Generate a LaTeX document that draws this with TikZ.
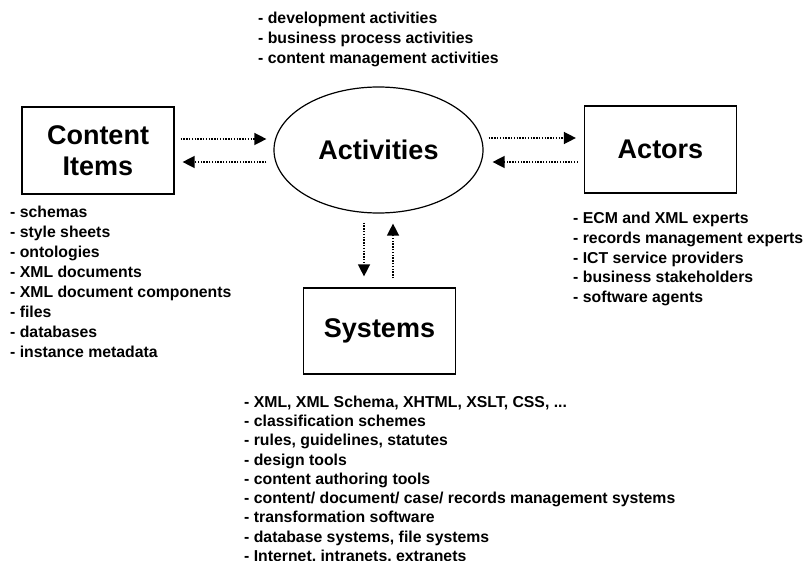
\documentclass[tikz,border=0pt]{standalone}
\usepackage{fontspec}
\setmainfont{Liberation Sans}
\usetikzlibrary{arrows.meta,shapes.geometric}
\begin{document}
\begin{tikzpicture}[x=1pt,y=-1pt,
  box/.style={draw,line width=1.2pt,minimum width=152pt,minimum height=87pt,inner sep=0pt,align=center,font=\fontsize{27}{31}\selectfont\bfseries},
  listtext/.style={anchor=north west,inner sep=0pt,align=left},
  lfont/.style={font=\fontsize{15.8}{#1}\selectfont\bfseries},
  flow/.style={line width=1.4pt,dash pattern=on 1.4pt off 1.4pt,-{Triangle[length=12pt,width=12pt]}}]
\useasboundingbox (0,0) rectangle (810,561);

\node[box] (ci) at (98,150.5) {Content\\Items};
\node[box] (ac) at (660.5,149.5) {Actors};
\node[box,minimum height=86pt] (sys) at (379.5,331) {Systems};
\node[draw,line width=1.2pt,ellipse,minimum width=209pt,minimum height=126pt,inner sep=0pt,font=\fontsize{27}{31}\selectfont\bfseries] (act) at (378.5,150) {Activities};

\draw[flow] ([shift={(6,-11.5)}]ci.east) -- ([shift={(-7,-11)}]act.west);
\draw[flow] ([shift={(-7,12)}]act.west) -- ([shift={(8,11.5)}]ci.east);
\draw[flow] ([shift={(5,-12)}]act.east) -- ([shift={(-8,-11.5)}]ac.west);
\draw[flow] ([shift={(-6,12.5)}]ac.west) -- ([shift={(9,12)}]act.east);
\draw[flow] ([shift={(-14.5,9)}]act.south) -- ([shift={(-15.5,-11)}]sys.north);
\draw[flow] ([shift={(13.5,-9)}]sys.north) -- ([shift={(14.5,10)}]act.south);

\node[listtext,lfont=20] (tl) at (258,11.7) {- development activities\\- business process activities\\- content management activities};
\node[listtext,lfont=20] (ll) at (10,205.4) {- schemas\\- style sheets\\- ontologies\\- XML documents\\- XML document components\\- files\\- databases\\- instance metadata};
\node[listtext,lfont=19.75] (rl) at (573,212) {- ECM and XML experts\\- records management experts\\- ICT service providers\\- business stakeholders\\- software agents};
\node[listtext,lfont=19.3] (bl) at (244,395.5) {- XML, XML Schema, XHTML, XSLT, CSS, ...\\- classification schemes\\- rules, guidelines, statutes\\- design tools\\- content authoring tools\\- content/ document/ case/ records management systems\\- transformation software\\- database systems, file systems\\- Internet, intranets, extranets};
\end{tikzpicture}
\end{document}
